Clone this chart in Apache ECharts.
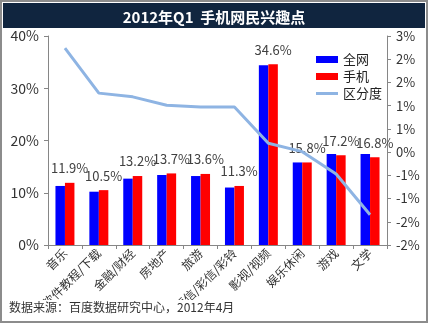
<!DOCTYPE html>
<html><head><meta charset="utf-8">
<script src="https://cdn.jsdelivr.net/npm/echarts@6/dist/echarts.min.js"></script>
<style>html,body{margin:0;padding:0;background:#fff}#c{width:428px;height:323px}</style>
</head><body><div id="c"></div>
<script>
const categories = ['音乐','软件教程/下载','金融/财经','房地产','旅游','短信/彩信/彩铃','影视/视频','娱乐休闲','游戏','文学'];
const allWeb = [11.3, 10.2, 12.7, 13.4, 13.2, 11.0, 34.4, 15.8, 17.4, 17.4];
const mobile = [11.9, 10.5, 13.2, 13.7, 13.6, 11.3, 34.6, 15.8, 17.2, 16.8];
const distinction = [2.24, 1.27, 1.19, 1.01, 0.97, 0.97, 0.19, 0.01, -0.47, -1.35];
const leftTicks = ['0%','10%','20%','30%','40%'];
const rightTicks = ['-2%','-2%','-1%','-1%','0%','1%','1%','2%','2%','3%'];
const seriesNames = ['全网','手机','区分度'];

const chart = echarts.init(document.getElementById('c'));
const font = '"Noto Sans CJK SC", "Noto Sans", sans-serif';
chart.setOption({
  animation: false,
  textStyle: { fontFamily: font },
  title: {
    text: '2012年Q1  手机网民兴趣点',
    left: 'center', top: 5,
    textStyle: { color: '#fff', fontSize: 15, fontWeight: 'bold', fontFamily: font }
  },
  graphic: [
    { type: 'rect', z: -10, shape: { x: 1, y: 1, width: 426, height: 321 }, style: { fill: '#fff', stroke: '#8c8c8c', lineWidth: 2 } },
    { type: 'rect', z: -5, shape: { x: 3, y: 3, width: 422, height: 25 }, style: { fill: '#10253F' } },
    { type: 'rect', z: 100, shape: { x: 3, y: 300, width: 422, height: 20 }, style: { fill: '#fff' } },
    { type: 'text', z: 101, left: 9, top: 301, style: { text: '数据来源：百度数据研究中心，2012年4月', fill: '#333', font: '12px ' + font } }
  ],
  legend: {
    orient: 'vertical', left: 311, top: 48,
    itemWidth: 22, itemHeight: 7, itemGap: 4,
    textStyle: { fontSize: 13, color: '#222' },
    data: [
      { name: seriesNames[0], icon: 'rect' },
      { name: seriesNames[1], icon: 'rect' },
      { name: seriesNames[2], icon: 'path://M0,0 L22,0 L22,3 L0,3 Z' }
    ]
  },
  grid: { left: 48, right: 41, top: 36, bottom: 78 },
  xAxis: {
    type: 'category', data: categories,
    axisLine: { lineStyle: { color: '#868686' } },
    axisTick: { show: true, length: 4, lineStyle: { color: '#868686' } },
    axisLabel: { rotate: 45, interval: 0, fontSize: 12, color: '#333', margin: 6 }
  },
  yAxis: [
    {
      type: 'value', min: 0, max: 40, interval: 10,
      axisLine: { show: true, lineStyle: { color: '#868686' } },
      axisTick: { show: true, length: 4, lineStyle: { color: '#868686' } },
      splitLine: { show: false },
      axisLabel: { fontSize: 14, color: '#333', margin: 9,
        formatter: v => leftTicks[Math.round(v / 10)] }
    },
    {
      type: 'value', min: -2, max: 2.5, interval: 0.5, position: 'right',
      axisLine: { show: true, lineStyle: { color: '#868686' } },
      axisTick: { show: true, length: 4, lineStyle: { color: '#868686' } },
      splitLine: { show: false },
      axisLabel: { fontSize: 13, color: '#333', margin: 9,
        formatter: v => rightTicks[Math.round((v + 2) / 0.5)] }
    }
  ],
  series: [
    { name: seriesNames[0], type: 'bar', data: allWeb, itemStyle: { color: '#0000FF' },
      barGap: '0%', barCategoryGap: '44%' },
    { name: seriesNames[1], type: 'bar', data: mobile, itemStyle: { color: '#FF0000' },
      barGap: '0%', barCategoryGap: '44%',
      label: { show: true, position: 'top', distance: 8, fontSize: 13, color: '#404040',
        formatter: p => p.value.toFixed(1) + '%' } },
    { name: seriesNames[2], type: 'line', yAxisIndex: 1, data: distinction,
      symbol: 'none', lineStyle: { color: '#8EB4E3', width: 3 }, itemStyle: { color: '#8EB4E3' } }
  ]
});
</script></body></html>
